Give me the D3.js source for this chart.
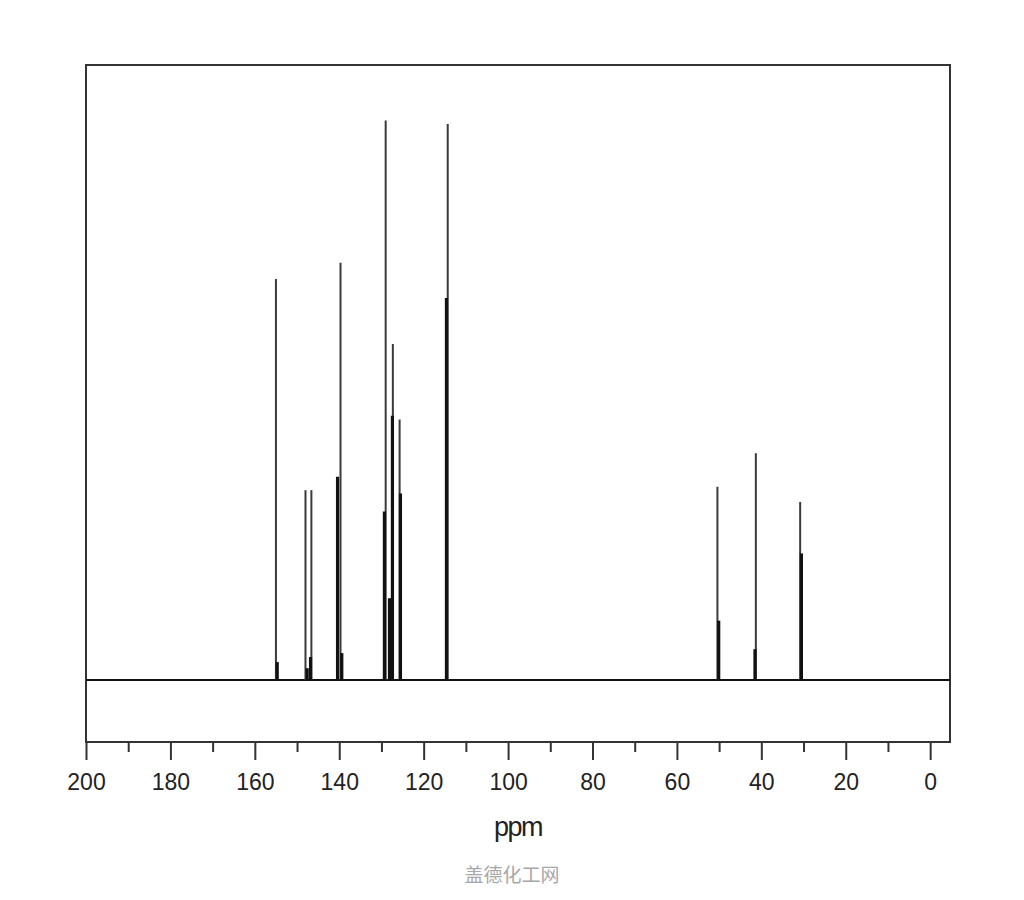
<!DOCTYPE html>
<html>
<head>
<meta charset="utf-8">
<script src="https://cdn.jsdelivr.net/npm/d3@7"></script>
<style>
  body { margin: 0; background: #fff; }
</style>
</head>
<body>
<script>
// 13C NMR spectrum, peaks (ppm, relative intensity)
const thinPpm = [155.0, 148.0, 146.6, 139.7, 129.0, 127.3, 125.7, 114.3, 50.4, 41.3, 30.8]
const thinHeight = [71.6, 33.9, 33.9, 74.5, 99.9, 60.0, 46.5, 99.3, 34.5, 40.5, 31.8]

const thickPpm = [154.7, 147.6, 146.8, 140.4, 139.4, 129.3, 128.1, 127.4, 125.5, 114.6, 50.1, 41.5, 30.5]
const thickHeight = [3.2, 2.1, 4.1, 36.3, 4.8, 30.1, 14.6, 47.2, 33.3, 68.2, 10.6, 5.5, 22.6]

const majorTicks = [200, 180, 160, 140, 120, 100, 80, 60, 40, 20, 0]
const minorTicks = [190, 170, 150, 130, 110, 90, 70, 50, 30, 10]

const xLabel = 'ppm'
const watermark = '盖德化工网'

const box = { width: 1024, height: 900, left: 86, right: 950, top: 65, bottom: 742 }

const svg = d3.select('body').append('svg')
  .attr('width', box.width)
  .attr('height', box.height)
  .style('display', 'block')

const x = d3.scaleLinear().domain([200, -4.7]).range([box.left, box.right])
const y = d3.scaleLinear().domain([0, 100]).range([680, 120])

// frame
svg.append('rect')
  .attr('x', box.left)
  .attr('y', box.top)
  .attr('width', box.right - box.left)
  .attr('height', box.bottom - box.top)
  .attr('fill', 'none')
  .attr('stroke', '#333')
  .attr('stroke-width', 2)

// baseline
svg.append('line')
  .attr('x1', box.left).attr('x2', box.right)
  .attr('y1', y(0)).attr('y2', y(0))
  .attr('stroke', '#111')
  .attr('stroke-width', 2.2)

const peaks = svg.append('g').classed('peaks', true)

peaks.selectAll('line.thin')
  .data(thinPpm.map((p, i) => [p, thinHeight[i]]))
  .join('line')
  .classed('thin', true)
  .attr('x1', d => x(d[0])).attr('x2', d => x(d[0]))
  .attr('y1', y(0)).attr('y2', d => y(d[1]))
  .attr('stroke', '#3a3a3a')
  .attr('stroke-width', 2)

peaks.selectAll('line.thick')
  .data(thickPpm.map((p, i) => [p, thickHeight[i]]))
  .join('line')
  .classed('thick', true)
  .attr('x1', d => x(d[0])).attr('x2', d => x(d[0]))
  .attr('y1', y(0)).attr('y2', d => y(d[1]))
  .attr('stroke', '#111')
  .attr('stroke-width', 3.2)

// axis
const minorAxis = d3.axisBottom(x).tickValues(minorTicks).tickSize(10).tickFormat('')
const majorAxis = d3.axisBottom(x).tickValues(majorTicks).tickSize(18).tickPadding(14)

svg.append('g').attr('transform', `translate(0,${box.bottom})`).call(minorAxis)
  .call(g => g.select('.domain').remove())
const xaxis = svg.append('g').attr('transform', `translate(0,${box.bottom})`).call(majorAxis)
xaxis.select('.domain').remove()
svg.selectAll('.tick line').attr('stroke', '#333').attr('stroke-width', 2)
xaxis.selectAll('text')
  .attr('fill', '#222')
  .style('font-family', '"Liberation Sans", Arial, sans-serif')
  .style('font-size', '23px')

svg.append('text')
  .attr('x', 518).attr('y', 836)
  .attr('text-anchor', 'middle')
  .attr('fill', '#222')
  .style('font-family', '"Liberation Sans", Arial, sans-serif')
  .style('font-size', '27px')
  .style('letter-spacing', '-1.5px')
  .text(xLabel)

svg.append('text')
  .attr('x', 512).attr('y', 882)
  .attr('text-anchor', 'middle')
  .attr('fill', '#a8a8a8')
  .style('font-family', '"Noto Sans CJK SC", sans-serif')
  .style('font-size', '19px')
  .text(watermark)
</script>
</body>
</html>
